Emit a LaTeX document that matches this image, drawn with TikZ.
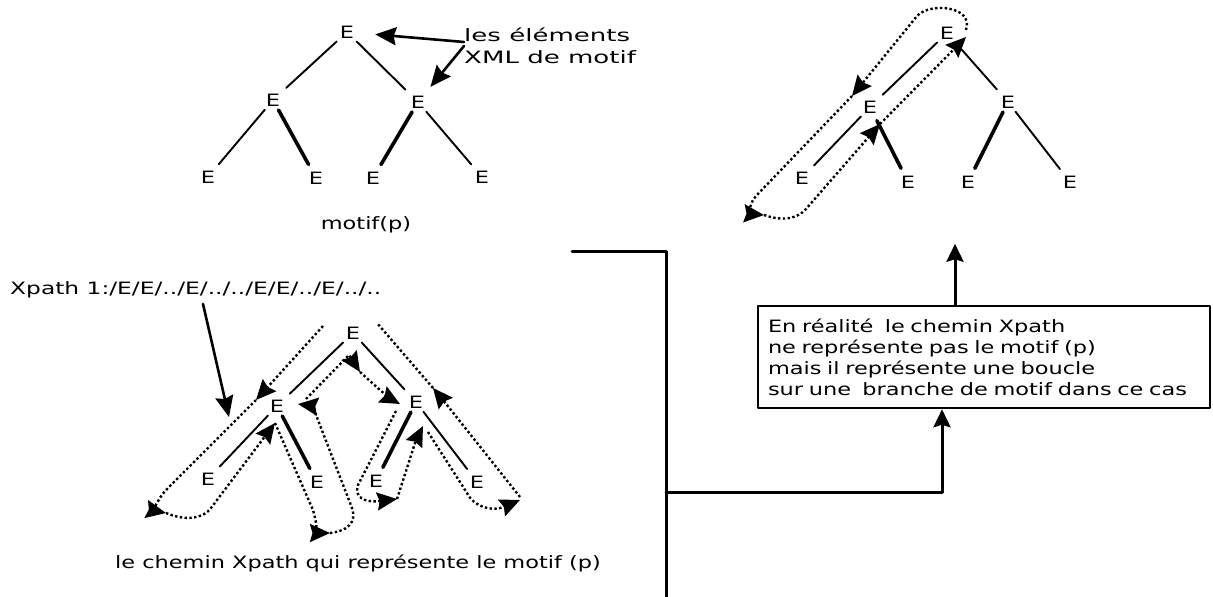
\documentclass[tikz,border=0pt]{standalone}
\usepackage{fontspec}
\setmainfont{DejaVu Sans}[FakeStretch=1.32]
\usetikzlibrary{arrows.meta}

\begin{document}
\begin{tikzpicture}[x=1pt,y=-1pt,line cap=round,line join=round,
  font=\fontsize{17pt}{21pt}\selectfont,
  el/.style={inner sep=1pt},
  branch/.style={line width=1.9pt,shorten <=3pt,shorten >=7pt},
  heavy/.style={branch,line width=3.6pt},
  trail/.style={line width=2.4pt,dash pattern=on 2.4pt off 2.4pt,line cap=butt,-{Stealth[length=20pt,width=18pt,inset=2.5pt]}},
  pointer/.style={line width=2.6pt,-{Stealth[length=21pt,width=18pt,inset=2.5pt]}},
  wire/.style={line width=3pt}]
  \useasboundingbox (0,0) rectangle (1213,597);

  % motif(p)
  \foreach \n/\p in {aroot/{347,32},aleft/{273,100},aright/{418,102},all/{208,177},alr/{316,178},arl/{373,178},arr/{482,177}}
    \node[el] (\n) at (\p) {E};
  \draw[branch] (aroot) -- (aleft); \draw[branch] (aroot) -- (aright);
  \draw[branch] (aleft) -- (all); \draw[heavy] (aleft) -- (alr); \draw[heavy] (aright) -- (arl); \draw[branch] (aright) -- (arr);
  \node (motif) at (366,225) {motif(p)};
  \node[align=left,anchor=west,inner sep=0pt,xscale=1.16] (note) at (464,46) {les éléments\\[1pt]XML de motif};
  \draw[pointer,shorten >=20pt] ([yshift=4pt]note.west) -- (aroot);
  \draw[pointer,shorten >=10pt] (note.west) -- (aright);

  % the loop seen on one branch
  \foreach \n/\p in {croot/{947,33},cleft/{870,107},cright/{1008,102},cll/{802,178},clr/{908,182},crl/{968,182},crr/{1070,182}}
    \node[el] (\n) at (\p) {E};
  \draw[branch] (croot) -- (cleft); \draw[branch,shorten <=12pt] (croot) -- (cright);
  \draw[branch] (cleft) -- (cll); \draw[heavy,shorten <=7pt] (cleft) -- (clr); \draw[heavy] (cright) -- (crl); \draw[branch] (cright) -- (crr);
  \draw[trail] (966,30) .. controls (974,6) and (930,2) .. (917,16) -- (852,96);
  \draw[trail] (852,96) -- (756,196) .. controls (747,206) and (752,214) .. (764,215);
  \draw[trail] (764,215) .. controls (784,222) and (798,218) .. (806,209) -- (880,124);
  \draw[trail] (880,124) -- (966,37);

  % Xpath 1
  \foreach \n/\p in {broot/{353,333},bleft/{277,406},bright/{416,402},bll/{208,479},blr/{317,482},brl/{376,481},brr/{477,482}}
    \node[el] (\n) at (\p) {E};
  \draw[branch] (broot) -- (bleft); \draw[branch] (broot) -- (bright);
  \draw[branch] (bleft) -- (bll); \draw[heavy] (bleft) -- (blr); \draw[heavy] (bright) -- (brl); \draw[branch] (bright) -- (brr);
  \draw[trail] (323,326) -- (256,400);
  \draw[trail] (256,400) -- (168,488) .. controls (155,501) and (156,511) .. (166,513);
  \draw[trail] (166,513) .. controls (185,521) and (203,519) .. (211,508) -- (275,423);
  \draw[trail] (275,423) -- (313,510) .. controls (317,524) and (318,533) .. (330,533);
  \draw[trail] (330,533) .. controls (347,531) and (357,523) .. (352,508) -- (316,415) .. controls (313,406) .. (298,404);
  \draw[trail] (306,399) -- (349,355) -- (360,372);
  \draw[trail] (360,372) -- (389,398) -- (400,404);
  \draw[trail] (396,411) -- (358,485) .. controls (354,497) and (364,503) .. (397,499);
  \draw[trail] (397,499) -- (416,440) -- (423,426);
  \draw[trail] (428,432) -- (467,493) .. controls (474,507) and (492,512) .. (520,500);
  \draw[trail] (520,497) -- (447,405) -- (433,388);
  \draw[trail,-] (433,388) -- (377,323);
  \node[anchor=west,xscale=1.04,inner sep=0pt] (xpath) at (10,290) {Xpath 1:/E/E/../E/../../E/E/../E/../..};
  \coordinate (xpfoot) at (203,304); \coordinate (xptip) at (229,417);
  \draw[pointer] (xpfoot) -- (xptip);
  \node (caption) at (358,563) {le chemin Xpath qui représente le motif (p)};

  % comment
  \node[draw,line width=2.5pt,align=left,text width=432pt,inner xsep=10pt,minimum height=102pt] (reality) at (984,357)
    {En réalité\ \ le chemin Xpath\\ne représente pas le motif (p)\\mais il représente une boucle\\sur une\ \ branche de motif dans ce cas};
  \coordinate (motifend) at (572,251); \coordinate (bend) at (666,251); \coordinate (down) at (666,597); \coordinate (joint) at (666,492);
  \draw[wire] (motifend) -- (bend) -- (down);
  \draw[wire,-{Stealth[length=18pt,width=17pt,inset=2.5pt]}] (joint) -| ([xshift=-42pt]reality.south);
  \draw[wire,-{Stealth[length=18pt,width=17pt,inset=2.5pt]}] ([xshift=-29pt]reality.north) -- ++(0,-61);
\end{tikzpicture}
\end{document}
